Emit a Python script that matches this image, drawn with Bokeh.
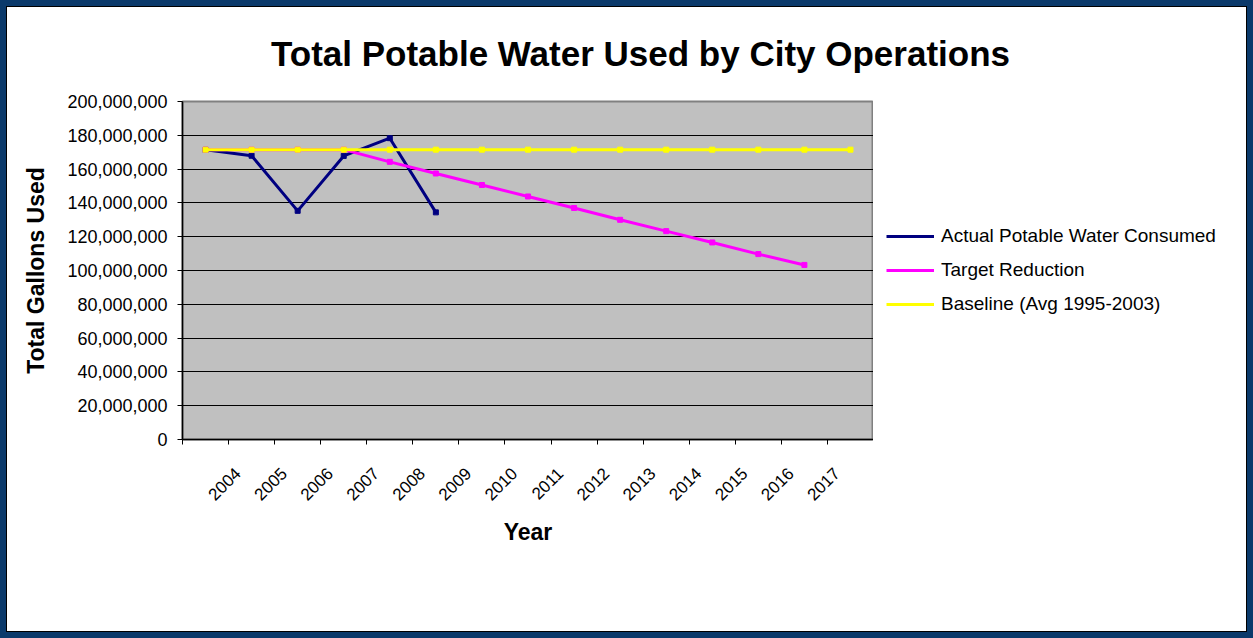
from math import nan, pi
from bokeh.plotting import figure
from bokeh.layouts import column, row
from bokeh.models import (Range1d, FixedTicker, NumeralTickFormatter, Legend, LegendItem, Label)
from bokeh.embed import file_html
from bokeh.resources import INLINE

# ---- data ----
categories = ["", "2004", "2005", "2006", "2007", "2008", "2009", "2010", "2011",
              "2012", "2013", "2014", "2015", "2016", "2017"]
actual = [171.4e6, 167.9e6, 135.3e6, 167.8e6, 178.3e6, 134.4e6,
          nan, nan, nan, nan, nan, nan, nan, nan, nan]
target = [171.5e6, 171.5e6, 171.5e6, 171.5e6, 164.3e6, 157.4e6, 150.6e6, 143.8e6,
          137.0e6, 130.0e6, 123.3e6, 116.6e6, 109.7e6, 103.3e6, nan]
baseline = [171.5e6, 171.5e6, 171.5e6, 171.5e6, 171.5e6, 171.5e6, 171.5e6, 171.5e6,
            171.5e6, 171.5e6, 171.5e6, 171.5e6, 171.5e6, 171.5e6, 171.5e6]
y_ticks = [0, 20e6, 40e6, 60e6, 80e6, 100e6, 120e6, 140e6, 160e6, 180e6, 200e6]

title_text = "Total Potable Water Used by City Operations"
series_names = ["Actual Potable Water Consumed", "Target Reduction", "Baseline (Avg 1995-2003)"]
series_colors = ["#000080", "#FF00FF", "#FFFF00"]

FONT = "Liberation Sans"
PAD = 6                       # blue frame thickness
OFF = PAD + 1                 # + 1px black line
IW, IH = 1253 - 2 * OFF, 638 - 2 * OFF      # inner white area
TH = 80                       # height of title strip
MW = 873 - OFF                # main chart width (frame right edge + 7)
MH = IH - TH

xs = [i + 0.5 for i in range(len(categories))]

# ---------- title strip ----------
tf = figure(width=IW, height=TH, output_backend="svg", toolbar_location=None,
            x_range=Range1d(0, IW), y_range=Range1d(0, TH), min_border=0,
            background_fill_color="white", border_fill_color="white", title=None)
tf.axis.visible = False
tf.grid.visible = False
tf.outline_line_color = None
tf.add_layout(Label(x=640 - OFF, y=TH - (63 - OFF) + 10, text=title_text,
                    text_font=FONT, text_font_size="35px", text_font_style="bold",
                    text_color="black", text_align="center", text_baseline="alphabetic"))

# ---------- main chart ----------
p = figure(width=MW, height=MH, output_backend="svg", toolbar_location=None,
           x_range=Range1d(0, len(categories)), y_range=Range1d(0, 200e6),
           min_border_left=182 - OFF, min_border_right=MW - (873 - OFF),
           min_border_top=101 - OFF - TH, min_border_bottom=MH - (439 - OFF - TH),
           background_fill_color="#C0C0C0", border_fill_color="white", title=None)
p.outline_line_color = "#808080"
p.outline_line_width = 2

p.yaxis.ticker = FixedTicker(ticks=y_ticks, minor_ticks=[])
p.yaxis.formatter = NumeralTickFormatter(format="0,0")
p.yaxis.major_tick_out = 5
p.yaxis.major_tick_in = 0
p.yaxis.major_tick_line_color = "black"
p.yaxis.axis_line_color = "black"
p.yaxis.axis_line_width = 1.5
p.yaxis.major_label_text_font = FONT
p.yaxis.major_label_text_font_size = "18px"
p.yaxis.major_label_text_color = "black"
p.yaxis.major_label_standoff = 10
p.yaxis.axis_label = "Total Gallons Used"
p.yaxis.axis_label_text_font = FONT
p.yaxis.axis_label_text_font_size = "23px"
p.yaxis.axis_label_text_font_style = "bold"
p.yaxis.axis_label_text_color = "black"
p.yaxis.axis_label_standoff = 15

label_shift = 0.3
label_pos = [xs[i] - label_shift for i in range(len(categories)) if categories[i]]
p.xaxis.ticker = FixedTicker(ticks=label_pos, minor_ticks=list(range(len(categories) + 1)))
p.xaxis.major_label_overrides = {xs[i] - label_shift: categories[i]
                                 for i in range(len(categories)) if categories[i]}
p.xaxis.major_tick_out = 0
p.xaxis.major_tick_in = 0
p.xaxis.major_tick_line_color = None
p.xaxis.minor_tick_out = 5
p.xaxis.minor_tick_in = 0
p.xaxis.minor_tick_line_color = "black"
p.xaxis.axis_line_color = "black"
p.xaxis.axis_line_width = 1.5
p.xaxis.major_label_orientation = pi / 4
p.xaxis.major_label_text_font = FONT
p.xaxis.major_label_text_font_size = "17px"
p.xaxis.major_label_text_color = "black"
p.xaxis.major_label_standoff = 26
p.xaxis.axis_label = "Year"
p.xaxis.axis_label_text_font = FONT
p.xaxis.axis_label_text_font_size = "23px"
p.xaxis.axis_label_text_font_style = "bold"
p.xaxis.axis_label_text_color = "black"
p.xaxis.axis_label_standoff = 10

p.xgrid.visible = False
p.ygrid.ticker = FixedTicker(ticks=y_ticks)
p.ygrid.grid_line_color = "black"
p.ygrid.grid_line_width = 1

for vals, col in zip([actual, target, baseline], series_colors):
    p.line(xs, vals, line_color=col, line_width=3)
    p.scatter(xs, vals, marker="square", size=5, fill_color=col, line_color=col)

# ---------- legend strip (its frame is aligned with the chart's frame) ----------
LW = IW - MW
lf = figure(width=LW, height=MH, output_backend="svg", toolbar_location=None,
            x_range=Range1d(1000, 1001), y_range=Range1d(0, 200e6), min_border=0,
            background_fill_color="white", border_fill_color="white", title=None)
lf.axis.visible = False
lf.grid.visible = False
lf.outline_line_color = None
items = []
for vals, name, col in zip([actual, target, baseline], series_names, series_colors):
    r = lf.line(xs, vals, line_color=col, line_width=3)
    items.append(LegendItem(label=name, renderers=[r]))
legend_bottom = 439 - (219 + 3 * 34)
lf.add_layout(Legend(items=items, location=(886 - (OFF + MW), legend_bottom),
                     orientation="vertical", glyph_width=48, glyph_height=34, spacing=0,
                     padding=0, margin=0, label_standoff=7, label_text_font=FONT,
                     label_text_font_size="19px", label_text_color="black",
                     border_line_color=None, background_fill_alpha=0))

inner = column(tf, row(p, lf), styles={"border": "1px solid black", "background-color": "white"})
page = column(inner, styles={"background-color": "#0B3A6B", "padding": f"{PAD}px"})

open("out.html", "w").write(file_html(page, INLINE))
